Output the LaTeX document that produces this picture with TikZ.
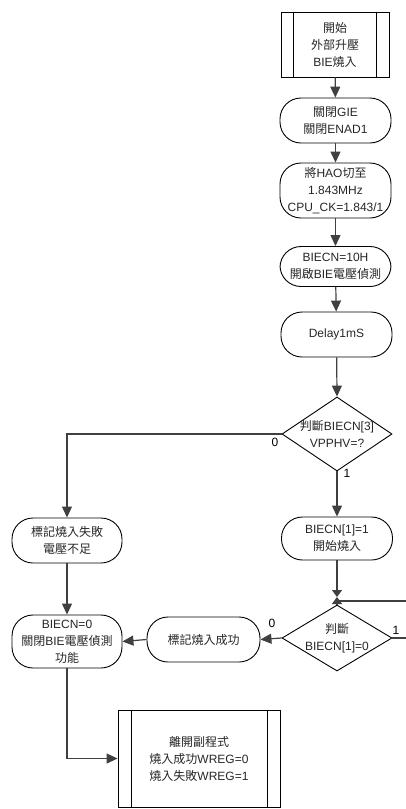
\documentclass[tikz,border=0pt]{standalone}
\usepackage{fontspec}
\setmainfont{Liberation Sans}
\newfontfamily\cjkfont{Noto Sans CJK TC}
\newcommand{\zh}[1]{{\cjkfont #1}}
\usetikzlibrary{shapes.geometric,arrows.meta}

\begin{document}
\begin{tikzpicture}[x=1pt,y=-1pt,
  every node/.style={font=\fontsize{12}{17}\selectfont, text=black!85},
  term/.style={draw=black, line width=0.9pt, rounded corners=21pt, align=center,
    inner sep=0pt, minimum width=111pt, minimum height=45pt},
  proc/.style={draw=black, line width=0.9pt, align=center, inner sep=0pt},
  procline/.style={draw=black, line width=0.9pt},
  dia/.style={draw=black, line width=0.9pt, diamond, inner sep=0pt,
    minimum width=110pt, minimum height=74pt},
  dtext/.style={align=center, inner sep=0pt},
  wire/.style={draw=black!75, line width=1.2pt},
  flow/.style={wire, -{Triangle[length=11pt,width=10pt]}},
  shortflow/.style={wire, -{Triangle[length=7pt,width=10pt]}},
  branch/.style={text=black, inner sep=0pt}
]
\useasboundingbox (0,0) rectangle (406,809);

% entry block
\node[proc, minimum width=108pt, minimum height=65pt] (start) at (335,44.5)
  {\zh{開始}\\\zh{外部升壓}\\BIE\zh{燒入}};
\draw[procline] ([xshift=13pt]start.north west) -- ([xshift=13pt]start.south west);
\draw[procline] ([xshift=-13pt]start.north east) -- ([xshift=-13pt]start.south east);

% main column
\node[term] (gie) at (335.5,120.5) {\zh{關閉}GIE\\\zh{關閉}ENAD1};
\node[term, minimum height=55pt] (hao) at (335.5,190.5)
  {\zh{將}HAO\zh{切至}\\1.843MHz\\CPU\_CK=1.843/1};
\node[term, minimum height=40pt] (bie) at (335.5,266.5)
  {BIECN=10H\\\zh{開啟}BIE\zh{電壓偵測}};
\node[term] (delay) at (336.5,334.5) {Delay1mS};

\node[dia] (d1) at (337,434) {};
\node[dtext] (d1t) at (d1.center) {\zh{判斷}BIECN[3]\\VPPHV=?};

\node[term, minimum height=43pt] (burn) at (337,538.5) {BIECN[1]=1\\\zh{開始燒入}};

\node[dia, minimum height=66pt] (d2) at (337,638) {};
\node[dtext] (d2t) at (d2.center) {\zh{判斷}\\BIECN[1]=0};

% left column
\node[term, minimum width=110pt] (fail) at (67,540.5) {\zh{標記燒入失敗}\\\zh{電壓不足}};
\node[term, minimum width=113pt] (ok) at (203.5,639.5) {\zh{標記燒入成功}};
\node[term, minimum width=110pt, minimum height=53pt] (off) at (67,641.5)
  {BIECN=0\\\zh{關閉}BIE\zh{電壓偵測}\\\zh{功能}};

% exit block
\node[proc, minimum width=162pt, minimum height=97pt] (exit) at (199,758.5)
  {\zh{離開副程式}\\\zh{燒入成功}WREG=0\\\zh{燒入失敗}WREG=1};
\draw[procline] ([xshift=14pt]exit.north west) -- ([xshift=14pt]exit.south west);
\draw[procline] ([xshift=-13pt]exit.north east) -- ([xshift=-13pt]exit.south east);

% connectors
\coordinate (join) at (337,597);
\coordinate (loopin) at (410,601);
\coordinate (yesout) at (410,638);

\draw[flow] (start) -- (gie);
\draw[flow] (gie) -- (hao);
\draw[flow] (hao) -- (bie);
\draw[flow] (bie) -- (delay);
\draw[flow] (delay) -- (d1.north);
\draw[flow] (d1.west) -| (fail.north);
\draw[flow] (d1.south) -- (burn.north);
\draw[shortflow] (burn.south) -- (join);
\draw[shortflow] (d2.north) -- (join);
\draw[wire] (loopin) -- (d2.north |- loopin);
\draw[wire] (d2.east) -- (yesout);
\draw[flow] (d2.west) -- (ok.east);
\draw[flow] (ok.west) -- (off.east);
\draw[flow] (fail.south) -- (off.north);
\draw[flow] (off.south) |- (exit.west);

% branch labels
\node[branch] (l0a) at (275,442) {0};
\node[branch] (l1a) at (347,473) {1};
\node[branch] (l0b) at (272,623) {0};
\node[branch] (l1b) at (396,630) {1};
\end{tikzpicture}
\end{document}
